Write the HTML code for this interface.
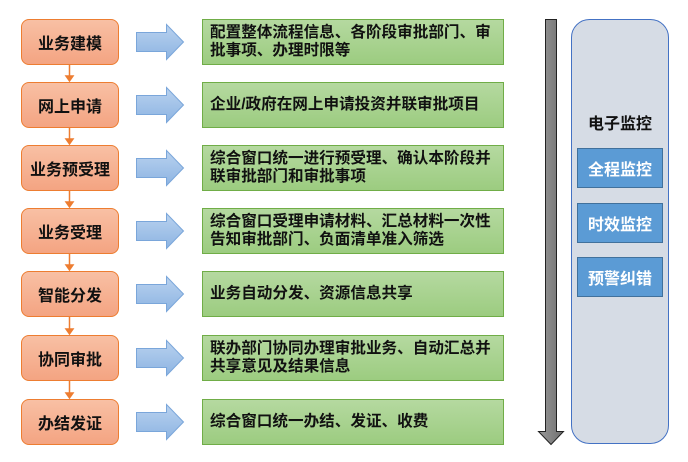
<!DOCTYPE html>
<html><head><meta charset="utf-8"><style>
body{margin:0;width:688px;height:462px;background:#fff;position:relative;overflow:hidden;font-family:"Liberation Sans","Noto Sans CJK SC",sans-serif;}
.o{position:absolute;left:21px;width:96px;height:44px;border:1px solid #ed7d31;border-radius:8px;background:linear-gradient(#f8c0a4,#f4a482);display:flex;align-items:center;justify-content:center;font-size:16px;font-weight:bold;color:#111;}
.g{position:absolute;left:202px;border:1px solid #70ad47;background:linear-gradient(#b5d9a0,#9ccc80);display:flex;align-items:center;padding-left:7px;box-sizing:border-box;width:302px;height:46px;font-size:15.6px;font-weight:bold;line-height:18px;color:#111;white-space:nowrap;}
.b{position:absolute;left:577px;width:86px;height:40px;background:#5b9bd5;border:1px solid #41719c;box-sizing:border-box;color:#fff;font-size:16px;font-weight:bold;display:flex;align-items:center;justify-content:center;}
</style></head><body>
<svg width="688" height="462" style="position:absolute;left:0;top:0">
<defs><linearGradient id="bl" x1="0" y1="0" x2="0" y2="1"><stop offset="0" stop-color="#b9d2ef"/><stop offset="1" stop-color="#8db4e2"/></linearGradient>
<linearGradient id="gr" x1="0" y1="0" x2="1" y2="0"><stop offset="0" stop-color="#9a9a9a"/><stop offset="1" stop-color="#6e6e6e"/></linearGradient></defs>
<g fill="url(#bl)" stroke="#7aa6da" stroke-width="1">
<path d="M136.5,32.5h30v-8l17,17.5l-17,17.5v-8h-30z"/>
<path d="M136.5,95.5h30v-8l17,17.5l-17,17.5v-8h-30z"/>
<path d="M136.5,158.5h30v-8l17,17.5l-17,17.5v-8h-30z"/>
<path d="M136.5,221.5h30v-8l17,17.5l-17,17.5v-8h-30z"/>
<path d="M136.5,284.5h30v-8l17,17.5l-17,17.5v-8h-30z"/>
<path d="M136.5,348.5h30v-8l17,17.5l-17,17.5v-8h-30z"/>
<path d="M136.5,412.5h30v-8l17,17.5l-17,17.5v-8h-30z"/>
</g>
<g stroke="#ed7d31" stroke-width="1.5" fill="#ed7d31">
<line x1="69.5" y1="65" x2="69.5" y2="78"/><path d="M66,76h7l-3.5,5z"/>
<line x1="69.5" y1="128" x2="69.5" y2="141"/><path d="M66,139h7l-3.5,5z"/>
<line x1="69.5" y1="191" x2="69.5" y2="204"/><path d="M66,202h7l-3.5,5z"/>
<line x1="69.5" y1="254" x2="69.5" y2="267"/><path d="M66,265h7l-3.5,5z"/>
<line x1="69.5" y1="317" x2="69.5" y2="331"/><path d="M66,329h7l-3.5,5z"/>
<line x1="69.5" y1="381" x2="69.5" y2="395"/><path d="M66,393h7l-3.5,5z"/>
</g>
<path d="M545.5,19.5h11v412h7l-12.5,13l-12.5,-13h7z" fill="url(#gr)" stroke="#222" stroke-width="1"/>
<rect x="571.5" y="19.5" width="97" height="424" rx="18" fill="#d6dce5" stroke="#4472c4" stroke-width="1"/>
</svg>
<div class="o" style="top:19px">业务建模</div>
<div class="o" style="top:82px">网上申请</div>
<div class="o" style="top:145px">业务预受理</div>
<div class="o" style="top:208px">业务受理</div>
<div class="o" style="top:271px">智能分发</div>
<div class="o" style="top:335px">协同审批</div>
<div class="o" style="top:399px">办结发证</div>
<div class="g" style="top:19px">配置整体流程信息、各阶段审批部门、审<br>批事项、办理时限等</div>
<div class="g" style="top:82px">企业/政府在网上申请投资并联审批项目</div>
<div class="g" style="top:145px">综合窗口统一进行预受理、确认本阶段并<br>联审批部门和审批事项</div>
<div class="g" style="top:208px">综合窗口受理申请材料、汇总材料一次性<br>告知审批部门、负面清单准入筛选</div>
<div class="g" style="top:271px">业务自动分发、资源信息共享</div>
<div class="g" style="top:335px">联办部门协同办理审批业务、自动汇总并<br>共享意见及结果信息</div>
<div class="g" style="top:399px">综合窗口统一办结、发证、收费</div>
<div style="position:absolute;left:571px;width:98px;top:110px;text-align:center;font-size:16px;font-weight:bold;color:#111;">电子监控</div>
<div class="b" style="top:148px">全程监控</div>
<div class="b" style="top:203px">时效监控</div>
<div class="b" style="top:257px">预警纠错</div>
</body></html>
